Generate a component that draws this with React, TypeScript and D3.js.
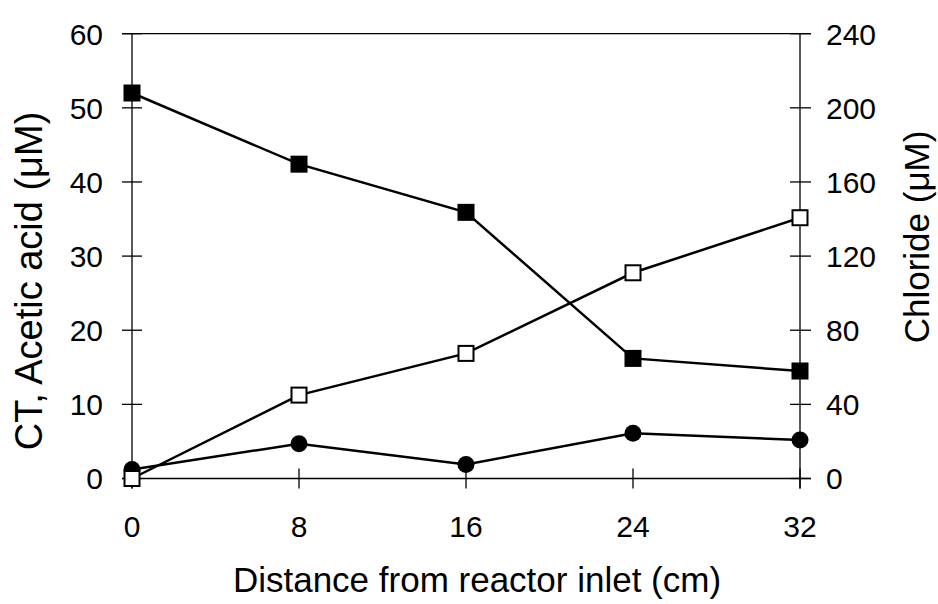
import * as d3 from "d3";

const distance = [0, 8, 16, 24, 32];
const ctValues = [52, 42.4, 35.9, 16.2, 14.5];
const acetic = [1.2, 4.7, 1.9, 6.1, 5.2];
const chloride = [0, 45, 67.5, 111, 140.7];

const xTicks = [0, 8, 16, 24, 32];
const leftTicks = [0, 10, 20, 30, 40, 50, 60];
const rightTicks = [0, 40, 80, 120, 160, 200, 240];

const W = 938, H = 604;
const left = 132, right = 800, top = 33.7, bottom = 478.5;
const font = "'Liberation Sans', Arial, sans-serif";

export default function App() {
  const x = d3.scaleLinear().domain([0, 32]).range([left, right]);
  const yL = d3.scaleLinear().domain([0, 60]).range([bottom, top]);
  const yR = d3.scaleLinear().domain([0, 240]).range([bottom, top]);

  const lineL = (vals: number[]) =>
    d3.line<number>().x((_, i) => x(distance[i])).y(v => yL(v))(vals) || "";
  const lineR = (vals: number[]) =>
    d3.line<number>().x((_, i) => x(distance[i])).y(v => yR(v))(vals) || "";

  const sq = 17;

  return (
    <svg width={W} height={H} style={{ position: "absolute", left: 0, top: 0, background: "#fff" }}
      fontFamily={font}>
      {/* frame: top line, left and right axes, bottom axis */}
      <line x1={left - 10} x2={right + 11} y1={top} y2={top} stroke="#000" strokeWidth={1.3} />
      <line x1={left - 10} x2={right + 11} y1={bottom} y2={bottom} stroke="#000" strokeWidth={1.3} />
      <line x1={left} x2={left} y1={top} y2={bottom + 10} stroke="#000" strokeWidth={1.3} />
      <line x1={right} x2={right} y1={top} y2={bottom + 10} stroke="#000" strokeWidth={1.3} />

      {leftTicks.map(t => (
        <g key={"l" + t}>
          <line x1={left - 10} x2={left + 10} y1={yL(t)} y2={yL(t)} stroke="#000" strokeWidth={1.3} />
          <text x={103} y={yL(t)} dy="0.36em" textAnchor="end" fontSize={30}>{t}</text>
        </g>
      ))}
      {rightTicks.map(t => (
        <g key={"r" + t}>
          <line x1={right - 10} x2={right + 11} y1={yR(t)} y2={yR(t)} stroke="#000" strokeWidth={1.3} />
          <text x={826} y={yR(t)} dy="0.36em" textAnchor="start" fontSize={30}>{t}</text>
        </g>
      ))}
      {xTicks.map(t => (
        <g key={"x" + t}>
          <line x1={x(t)} x2={x(t)} y1={bottom - 10} y2={bottom + 10} stroke="#000" strokeWidth={1.3} />
          <text x={x(t)} y={537} textAnchor="middle" fontSize={30}>{t}</text>
        </g>
      ))}

      {/* lines */}
      <path d={lineL(ctValues)} fill="none" stroke="#000" strokeWidth={2.5} />
      <path d={lineL(acetic)} fill="none" stroke="#000" strokeWidth={2.5} />
      <path d={lineR(chloride)} fill="none" stroke="#000" strokeWidth={2.5} />

      {/* markers */}
      {acetic.map((v, i) => (
        <circle key={"c" + i} cx={x(distance[i])} cy={yL(v)} r={8.5} fill="#000" />
      ))}
      {chloride.map((v, i) => (
        <rect key={"o" + i} x={x(distance[i]) - 7.5} y={yR(v) - 7.5} width={15} height={15}
          fill="#fff" stroke="#000" strokeWidth={2} />
      ))}
      {ctValues.map((v, i) => (
        <rect key={"s" + i} x={x(distance[i]) - sq / 2} y={yL(v) - sq / 2} width={sq} height={sq}
          fill="#000" />
      ))}

      {/* titles */}
      <text x={477} y={592} textAnchor="middle" fontSize={35}>Distance from reactor inlet (cm)</text>
      <text transform="translate(42,281) rotate(-90)" textAnchor="middle" fontSize={38}>
        CT, Acetic acid (μM)
      </text>
      <text transform="translate(929,237) rotate(-90)" textAnchor="middle" fontSize={35}>
        Chloride (μM)
      </text>
    </svg>
  );
}
